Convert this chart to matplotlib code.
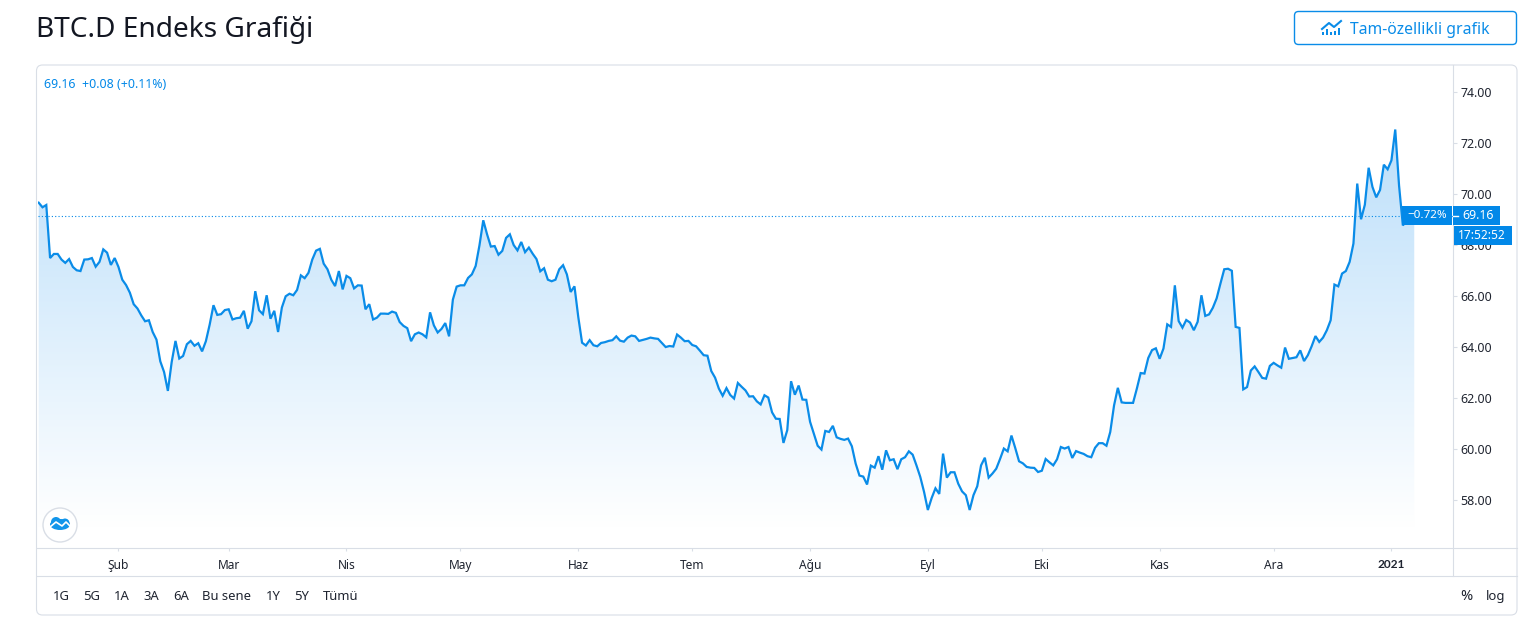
import numpy as np
import pandas as pd
import matplotlib
matplotlib.use("Agg")
import matplotlib.pyplot as plt
from matplotlib.patches import FancyBboxPatch, Rectangle, Circle, Ellipse

plt.rcParams['font.family'] = ['Noto Sans', 'DejaVu Sans']

W, H = 1538, 619
BLUE = '#0a8ce8'
BOX = '#0288e8'
GRID = '#d9dee6'
TXT = '#1f2430'

# BTC.D gunluk degerler
vals_1 = [69.67, 69.49, 69.58, 67.50, 67.66, 67.66, 67.44, 67.31, 67.46, 67.15, 67.02, 66.99,
          67.44, 67.45, 67.50, 67.16, 67.35, 67.84, 67.71, 67.23, 67.50, 67.15, 66.65, 66.44,
          66.14, 65.69, 65.52, 65.25, 65.02, 65.06, 64.60, 64.30, 63.45, 63.03, 62.29, 63.42,
          64.25, 63.56, 63.66, 64.12, 64.25, 64.06, 64.16, 63.84, 64.24, 64.89, 65.65, 65.27,
          65.30, 65.46, 65.49, 65.09, 65.14, 65.16, 65.43, 64.73, 65.02, 66.20, 65.45, 65.30,
          66.04, 65.12, 65.43, 64.60, 65.56, 66.00, 66.10, 66.04, 66.25, 66.82, 66.71, 66.92,
          67.44, 67.79, 67.86, 67.28, 67.06, 66.65, 66.40, 66.99, 66.27, 66.80, 66.71, 66.31,
          66.43, 66.42, 65.49, 65.69, 65.09, 65.16, 65.32, 65.32, 65.31, 65.40, 65.35, 64.99,
          64.84, 64.75, 64.24, 64.51, 64.58, 64.51, 64.39, 65.37, 64.86, 64.58, 64.72, 64.95,
          64.43, 65.87, 66.38, 66.43, 66.43, 66.72, 66.86, 67.19, 68.00, 68.98, 68.43, 67.95,
          67.97, 67.63, 67.78, 68.29, 68.43, 68.01, 67.80, 68.13, 67.73, 67.91]
vals_2 = [67.67, 67.46, 66.98, 67.10, 66.65, 66.59, 66.65, 67.06, 67.22, 66.86, 66.17, 66.39,
          65.19, 64.18, 64.07, 64.28, 64.08, 64.04, 64.17, 64.20, 64.25, 64.28, 64.43, 64.26,
          64.22, 64.38, 64.46, 64.43, 64.25, 64.29, 64.33, 64.38, 64.35, 64.33, 64.17, 64.01,
          64.05, 64.03, 64.50, 64.38, 64.24, 64.25, 64.09, 64.04, 63.87, 63.69, 63.67, 63.07,
          62.81, 62.38, 62.10, 62.40, 62.13, 61.99, 62.60, 62.45, 62.31, 62.07, 62.08, 61.88,
          61.76, 62.12, 62.03, 61.45, 61.20, 61.19, 60.25, 60.75, 62.67, 62.14, 62.50, 61.95,
          61.94, 61.08, 60.61, 60.14, 59.99, 60.72, 60.68, 60.92, 60.47, 60.41, 60.37, 60.42,
          60.12, 59.44, 58.97, 58.93, 58.62, 59.36, 59.28, 59.73, 59.20, 59.96, 59.57, 59.61,
          59.22, 59.61, 59.69, 59.92, 59.79, 59.37, 58.92, 58.33, 57.62, 58.09, 58.47, 58.25,
          59.83, 58.89, 59.10, 59.10, 58.65, 58.35, 58.20, 57.62, 58.20, 58.55, 59.37, 59.67,
          58.89, 59.05, 59.24, 59.62]
vals_3 = [60.03, 59.92, 60.54, 60.05, 59.53, 59.45, 59.31, 59.28, 59.27, 59.11, 59.16, 59.62,
          59.49, 59.37, 59.61, 60.09, 60.03, 60.09, 59.66, 59.93, 59.87, 59.82, 59.73, 59.69,
          60.06, 60.24, 60.24, 60.14, 60.68, 61.72, 62.41, 61.84, 61.82, 61.82, 61.82, 62.38,
          62.99, 62.97, 63.58, 63.89, 63.96, 63.55, 63.95, 64.90, 64.80, 66.43, 65.03, 64.77,
          65.07, 64.97, 64.67, 65.00, 66.04, 65.23, 65.29, 65.55, 65.92, 66.50, 67.06, 67.08,
          67.00, 64.80, 64.76, 62.35, 62.44, 63.09, 63.25, 63.03, 62.80, 62.77, 63.27, 63.39,
          63.29, 63.20, 63.99, 63.55, 63.58, 63.61, 63.88, 63.46, 63.69, 64.04, 64.44, 64.21,
          64.38, 64.67, 65.06, 66.46, 66.39, 66.89, 66.99, 67.35, 68.07, 70.42, 69.02, 69.59,
          71.04, 70.29, 69.88, 70.17, 71.16, 70.98, 71.33, 72.54, 70.35, 68.78, 68.95, 69.08, 69.16]
values = vals_1 + vals_2 + vals_3
dates = pd.date_range('2020-01-11', periods=len(values), freq='D')

y_ticks = [58, 60, 62, 64, 66, 68, 70, 72, 74]
month_dates = ['2020-02-01', '2020-03-01', '2020-04-01', '2020-05-01', '2020-06-01', '2020-07-01',
               '2020-08-01', '2020-09-01', '2020-10-01', '2020-11-01', '2020-12-01', '2021-01-01']
month_labels = ['Şub', 'Mar', 'Nis', 'May', 'Haz', 'Tem', 'Ağu', 'Eyl', 'Eki', 'Kas', 'Ara', '2021']
ranges = ['1G', '5G', '1A', '3A', '6A', 'Bu sene', '1Y', '5Y', 'Tümü']
range_x = [61, 92, 122, 151, 181, 227, 273, 302, 341]
last_price = 69.16

fig = plt.figure(figsize=(W / 100, H / 100), dpi=100, facecolor='white')

# arka plan: pencere, butonlar
bg = fig.add_axes([0, 0, 1, 1], zorder=0)
bg.set_xlim(0, W)
bg.set_ylim(H, 0)
bg.axis('off')
bg.add_patch(FancyBboxPatch((36.5, 65), 1480.5, 550, boxstyle='round,pad=0,rounding_size=6',
                            fc='white', ec=GRID, lw=0.8))
bg.plot([1453, 1453], [65, 576], color=GRID, lw=0.8)
bg.plot([37, 1517], [548, 548], color=GRID, lw=0.8)
bg.plot([37, 1517], [576, 576], color=GRID, lw=0.8)
bg.text(36, 30, 'BTC.D Endeks Grafiği', fontsize=20.2, color='#131722', va='center', ha='left')
bg.add_patch(FancyBboxPatch((1294.5, 11.5), 222, 33, boxstyle='round,pad=0,rounding_size=4',
                            fc='white', ec=BLUE, lw=1.0))
bg.text(1420, 29.5, 'Tam-özellikli grafik', fontsize=11.3, color=BLUE, va='center', ha='center')
# buton ikonu
bg.plot([1322, 1329, 1334, 1341], [29, 23, 27, 21], color=BLUE, lw=1.5)
for bx, bh in zip([1323, 1327, 1331, 1335, 1339], [3, 6, 3, 4, 7]):
    bg.add_patch(Rectangle((bx - 1, 34.5 - bh), 2, bh, fc=BLUE, ec='none'))

for x, lab in zip(range_x, ranges):
    bg.text(x, 596.5, lab, fontsize=9.4, color=TXT, ha='center', va='center')
bg.text(1466, 596.5, '%', fontsize=10.5, color=TXT, ha='center', va='center')
bg.text(1496, 596.5, 'log', fontsize=9.4, color=TXT, ha='center', va='center')

# grafik alani
left, right, top, bottom = 38, 1453, 66, 548
ax = fig.add_axes([left / W, 1 - bottom / H, (right - left) / W, (bottom - top) / H], zorder=1)
ax.patch.set_alpha(0)
ax.set_ylim(56.13, 75.03)
ax.set_xlim(dates[0] - pd.Timedelta(days=0.18), dates[0] + pd.Timedelta(days=372.2))
for s in ax.spines.values():
    s.set_visible(False)

poly = ax.fill_between(dates, values, 56.13, color='none')
grad = np.ones((256, 1, 4))
grad[:, 0, 0] = np.linspace(188, 255, 256) / 255
grad[:, 0, 1] = np.linspace(223, 255, 256) / 255
grad[:, 0, 2] = np.linspace(250, 255, 256) / 255
x0, x1 = ax.get_xlim()
img = ax.imshow(grad, extent=[x0, x1, 56.9, 72.6], aspect='auto', origin='upper', zorder=1)
img.set_clip_path(poly.get_paths()[0], transform=ax.transData)
ax.set_xlim(x0, x1)
ax.set_ylim(56.13, 75.03)

ax.axhline(last_price, color=BOX, lw=0.8, ls=(0, (1, 2)), zorder=2)
ax.plot(dates, values, color=BLUE, lw=1.6, zorder=3, solid_joinstyle='miter')

ax.yaxis.tick_right()
ax.set_yticks(y_ticks)
ax.set_yticklabels([f'{v:.2f}' for v in y_ticks], fontsize=8.9, color=TXT)
ax.tick_params(axis='y', length=3.2, width=0.8, color=GRID, pad=2)
ax.set_xticks(pd.to_datetime(month_dates))
ax.set_xticklabels(month_labels, fontsize=8.6, color=TXT)
ax.tick_params(axis='x', length=2, width=0.8, color=GRID, pad=6)
ax.get_xticklabels()[-1].set_fontfamily('Lato')
ax.get_xticklabels()[-1].set_fontweight('bold')

# ust katman: etiketler ve logo
fg = fig.add_axes([0, 0, 1, 1], zorder=2)
fg.set_xlim(0, W)
fg.set_ylim(H, 0)
fg.axis('off')
fg.patch.set_alpha(0)
fg.text(44, 84, '69.16  +0.08 (+0.11%)', fontsize=8.9, color=BOX, va='center', ha='left')
fg.add_patch(Rectangle((1402, 206), 50, 19, fc=BOX, ec='none'))
fg.add_patch(Rectangle((1453, 206), 47, 19, fc=BOX, ec='none'))
fg.plot([1453, 1458], [215.5, 215.5], color='white', lw=1)
fg.text(1447, 215.5, '−0.72%', fontsize=8.4, color='white', ha='right', va='center')
fg.text(1462, 215.5, '69.16', fontsize=8.9, color='white', ha='left', va='center')
fg.add_patch(Rectangle((1454, 226), 58, 19, fc=BOX, ec='none'))
fg.text(1458, 235.5, '17:52:52', fontsize=8.6, color='white', ha='left', va='center')

fg.add_patch(Circle((60, 525), 17, fc='white', ec=GRID, lw=1))
fg.add_patch(Ellipse((60, 524.5), 20, 11, fc='#1295ea', ec='none'))
fg.add_patch(Circle((56, 522), 5, fc='#1295ea', ec='none'))
fg.add_patch(Circle((65, 523), 4.5, fc='#1295ea', ec='none'))
fg.plot([50, 56, 62, 66, 71], [527, 522, 526, 522, 527], color='white', lw=1.2)

fig.savefig('out.png', dpi=100)
